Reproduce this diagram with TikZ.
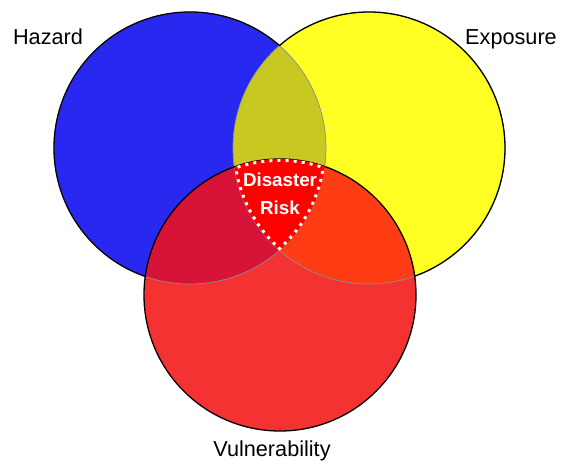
\documentclass[tikz,border=0pt]{standalone}
\usepackage{fontspec}
\setmainfont{Liberation Sans}
\usetikzlibrary{positioning}
\definecolor{hazc}{RGB}{40,40,240}
\definecolor{expc}{RGB}{255,255,35}
\definecolor{vulc}{RGB}{245,50,50}
\definecolor{hecol}{RGB}{200,200,35}
\definecolor{hvcol}{RGB}{215,20,55}
\definecolor{evcol}{RGB}{255,60,20}
\definecolor{riskc}{RGB}{255,0,0}

\begin{document}
\begin{tikzpicture}[x=0.03cm,y=-0.03cm]
\tikzstyle{ring}=[draw=black,line width=1.1pt];
\tikzstyle{thin}=[draw=black!45,line width=0.6pt];
\tikzstyle{lbl}=[anchor=base,text=black,font=\fontsize{18.5}{20}\selectfont];
\tikzstyle{risk}=[anchor=base,text=white,font=\bfseries\fontsize{16}{18}\selectfont];
\tikzstyle{rim}=[draw=white,line width=5pt,dash pattern=on 2.6pt off 4.4pt];

\useasboundingbox[fill=white] (0,0) rectangle (561,461);

\coordinate (haz) at (190,148);
\coordinate (exp) at (369,148);
\coordinate (vul) at (280,295);

% the three sets
\fill[hazc] (haz) circle (4.08cm);
\fill[expc] (exp) circle (4.08cm);
\fill[vulc] (vul) circle (4.08cm);

% two by two
\begin{scope}
      \clip (haz) circle (4.08cm);
      \fill[hecol] (exp) circle (4.08cm);
      \fill[hvcol] (vul) circle (4.08cm);
\end{scope}
\begin{scope}
      \clip (exp) circle (4.08cm);
      \fill[evcol] (vul) circle (4.08cm);
\end{scope}

% outlines
\draw[thin] (haz) circle (4.08cm) (exp) circle (4.08cm);
\begin{scope}[even odd rule]
      \clip (0,0) rectangle (561,461) (exp) circle (4.08cm);
      \clip (0,0) rectangle (561,461) (vul) circle (4.08cm);
      \draw[ring] (haz) circle (4.08cm);
\end{scope}
\begin{scope}[even odd rule]
      \clip (0,0) rectangle (561,461) (haz) circle (4.08cm);
      \clip (0,0) rectangle (561,461) (vul) circle (4.08cm);
      \draw[ring] (exp) circle (4.08cm);
\end{scope}
\draw[ring] (vul) circle (4.08cm);

% disaster risk = all three
\begin{scope}
      \clip (haz) circle (4.08cm);
      \clip (exp) circle (4.08cm);
      \clip (vul) circle (4.08cm);
      \fill[riskc] (vul) circle (4.08cm);
      \foreach \c in {haz,exp,vul}
        \draw[rim] (\c) circle (4.08cm);
\end{scope}

        \node[lbl] (hazlbl) at (48,45) {Hazard};
        \node[lbl] (explbl) at (511,45) {Exposure};
        \node[lbl] (vullbl) at (272,456) {Vulnerability};

        \node[risk] (riska) at (280,187) {Disaster};
        \node[risk] (riskb) at (280,215) {Risk};

\end{tikzpicture}
\end{document}
